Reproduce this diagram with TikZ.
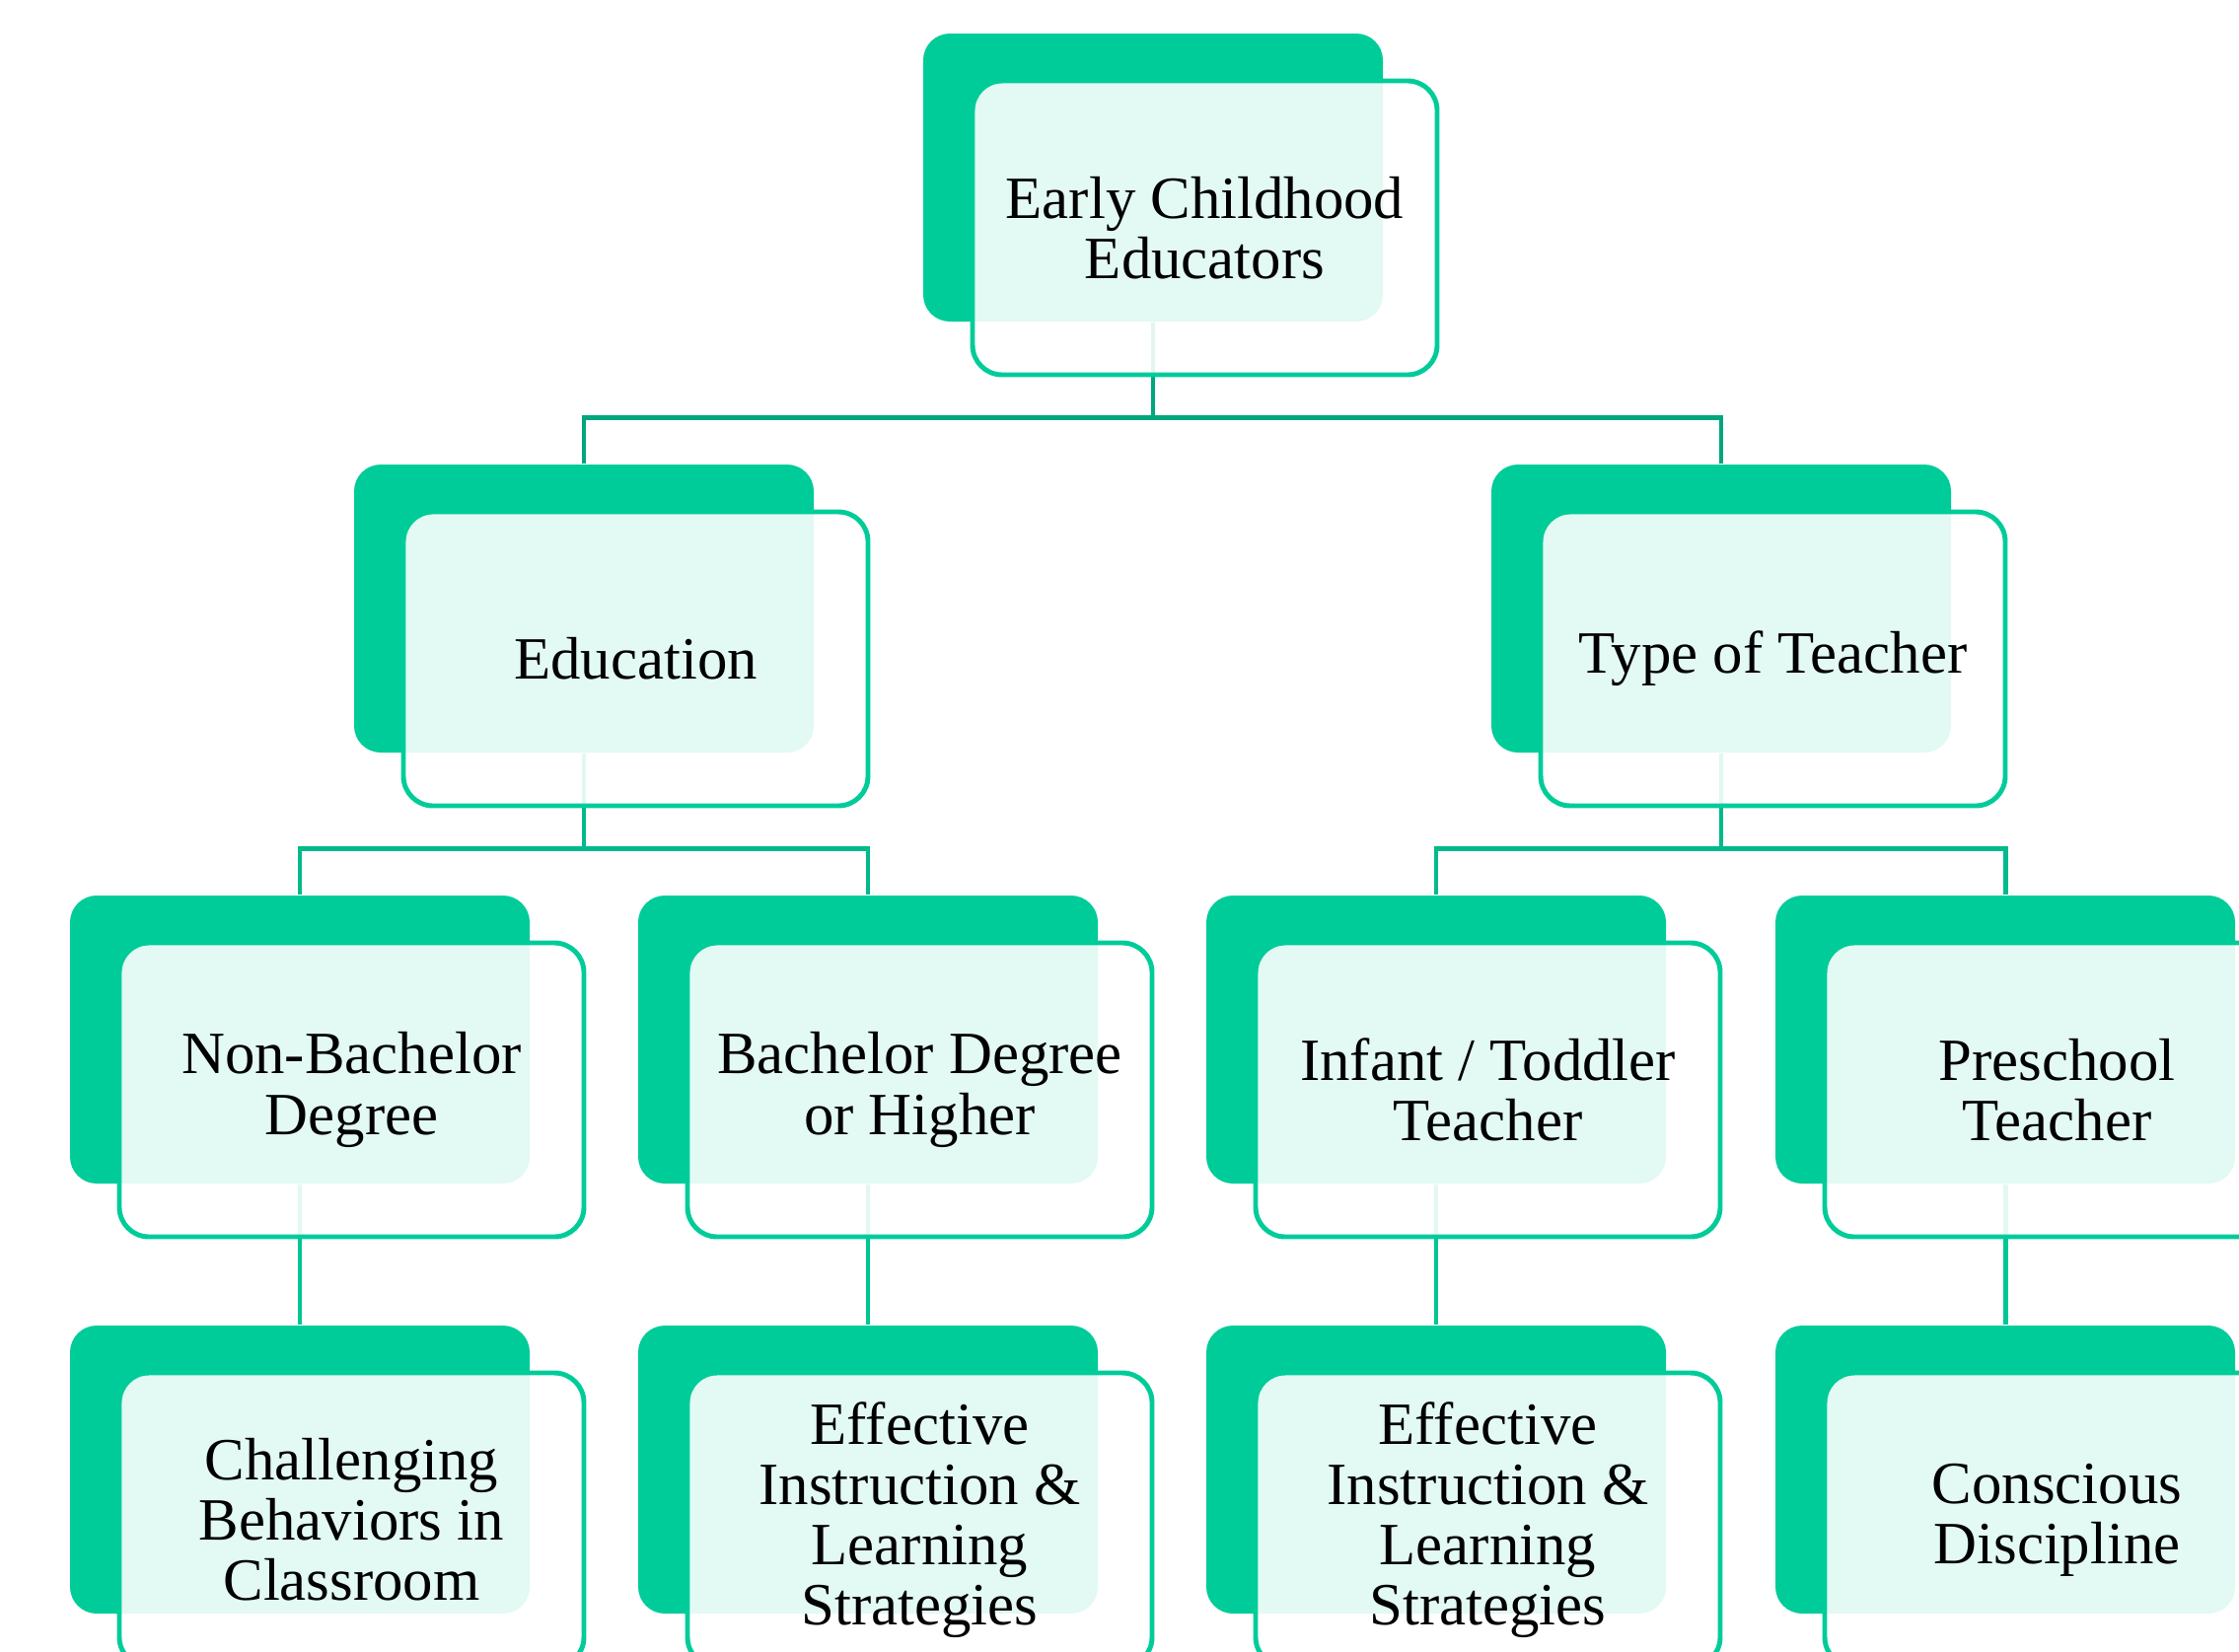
\documentclass[tikz,border=0pt]{standalone}
\usepackage{fontspec}
\setmainfont{Liberation Serif}

\definecolor{ecGreen}{RGB}{0,204,153}
\definecolor{ecLineA}{RGB}{0,166,125}
\definecolor{ecLineB}{RGB}{0,186,140}
\definecolor{ecLineC}{RGB}{0,198,148}

\begin{document}
\begin{tikzpicture}[
    back/.style={rectangle, rounded corners=0.27cm, fill=ecGreen, inner sep=0pt,
        minimum width=4.66cm, minimum height=2.92cm},
    front/.style={rectangle, rounded corners=0.3cm, draw=ecGreen, line width=1.4pt,
        fill=white, fill opacity=0.89, text opacity=1, inner sep=0pt,
        minimum width=4.71cm, minimum height=2.98cm, align=center,
        font=\fontsize{17.3}{17.4}\selectfont},
    link/.style={line width=1.4pt}
]
            \clip (0,0) rectangle (22.70,-16.74);

            % green back plates
            \node[back] (root) at (11.69,-1.80) {};
            \node[back] (edu) at (5.92,-6.17) {};
            \node[back] (type) at (17.45,-6.17) {};
            \node[back] (nonba) at (3.04,-10.54) {};
            \node[back] (ba) at (8.80,-10.54) {};
            \node[back] (infant) at (14.56,-10.54) {};
            \node[back] (presch) at (20.33,-10.54) {};
            \node[back] (chall) at (3.04,-14.90) {};
            \node[back] (instrA) at (8.80,-14.90) {};
            \node[back] (instrB) at (14.56,-14.90) {};
            \node[back] (consc) at (20.33,-14.90) {};

            % connectors
            \draw[link, ecLineA] (root.south) -- ++(0,-0.97) -| (edu.north);
            \draw[link, ecLineA] (root.south) -- ++(0,-0.97) -| (type.north);
            \draw[link, ecLineB] (edu.south) -- ++(0,-0.97) -| (nonba.north);
            \draw[link, ecLineB] (edu.south) -- ++(0,-0.97) -| (ba.north);
            \draw[link, ecLineB] (type.south) -- ++(0,-0.97) -| (infant.north);
            \draw[link, ecLineB] (type.south) -- ++(0,-0.97) -| (presch.north);
            \draw[link, ecLineC] (nonba.south) -- (chall.north);
            \draw[link, ecLineC] (ba.south) -- (instrA.north);
            \draw[link, ecLineC] (infant.south) -- (instrB.north);
            \draw[link, ecLineC] (presch.south) -- (consc.north);

            % text cards on top
            \node[front] (rootTxt) at ([shift={(0.525,-0.51)}]root) {Early Childhood\\Educators};
            \node[front] (eduTxt) at ([shift={(0.525,-0.51)}]edu) {Education};
            \node[front] (typeTxt) at ([shift={(0.525,-0.51)}]type) {Type of Teacher};
            \node[front] (nonbaTxt) at ([shift={(0.525,-0.51)}]nonba) {Non-Bachelor\\Degree};
            \node[front] (baTxt) at ([shift={(0.525,-0.51)}]ba) {Bachelor Degree\\or Higher};
            \node[front] (infantTxt) at ([shift={(0.525,-0.51)}]infant) {Infant / Toddler\\Teacher};
            \node[front] (preschTxt) at ([shift={(0.525,-0.51)}]presch) {Preschool\\Teacher};
            \node[front] (challTxt) at ([shift={(0.525,-0.51)}]chall) {Challenging\\Behaviors in\\Classroom};
            \node[front] (instrATxt) at ([shift={(0.525,-0.51)}]instrA) {Effective\\Instruction \&\\Learning\\Strategies};
            \node[front] (instrBTxt) at ([shift={(0.525,-0.51)}]instrB) {Effective\\Instruction \&\\Learning\\Strategies};
            \node[front] (conscTxt) at ([shift={(0.525,-0.51)}]consc) {Conscious\\Discipline};
\end{tikzpicture}
\end{document}
